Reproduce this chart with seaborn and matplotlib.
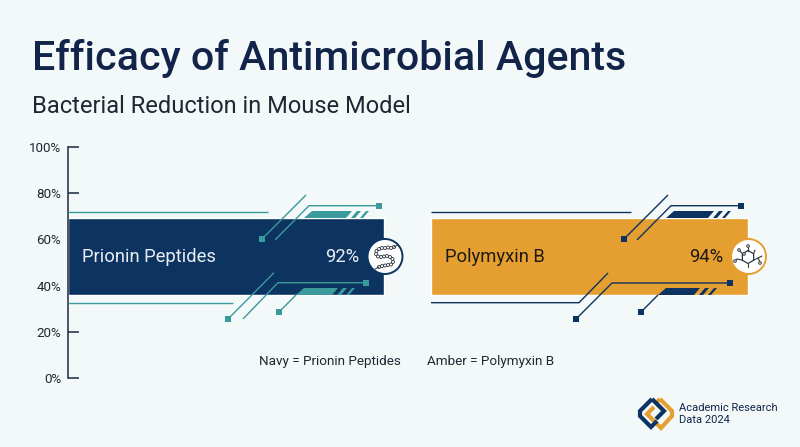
import numpy as np
import pandas as pd
import matplotlib
matplotlib.use("Agg")
import matplotlib.pyplot as plt
import seaborn as sns
from matplotlib.patches import Circle, Polygon, Rectangle

# values
agents = ["Prionin Peptides", "Polymyxin B"]
efficacy = [92, 94]
bar_low = [36, 36]
bar_high = [69.3, 69.3]
y_ticks = [0, 20, 40, 60, 80, 100]
y_labels = ["0%", "20%", "40%", "60%", "80%", "100%"]
legend_notes = ["Navy = Prionin Peptides", "Amber = Polymyxin B"]

BG = "#f3f9f9"
NAVY = "#0d3360"
AMBER = "#e59e30"
TEAL = "#3a9a9c"
INK = "#12244a"
DARK = "#1f2733"

sns.set_theme(style="white")
plt.rcParams["font.family"] = ["Roboto", "DejaVu Sans"]

fig = plt.figure(figsize=(8, 4.47), dpi=100, facecolor=BG)

# chart axes, y axis sits at x=68px, 100% at y=147px, 0% at y=378px
ax = fig.add_axes([68 / 800, (447 - 378) / 447, 732 / 800, 231 / 447])
ax.set_facecolor("none")

df = pd.DataFrame({"agent": agents, "low": bar_low, "high": bar_high})
df["span"] = df["high"] - df["low"]
sns.barplot(data=df, x="agent", y="span", hue="agent", palette=[NAVY, AMBER],
            bottom=df["low"].values, width=0.87, legend=False, ax=ax, saturation=1)

ax.set_xlim(-0.435, 1.579)
ax.set_ylim(0, 100)
ax.set_xlabel("")
ax.set_ylabel("")
ax.set_xticks([])
ax.set_yticks(y_ticks)
ax.set_yticklabels(y_labels, fontsize=9.6, color=DARK)
ax.tick_params(axis="y", direction="in", length=8, width=1.2, color="#2b3a4e",
               left=True, pad=5)
sns.despine(ax=ax, top=True, right=True, bottom=True)
ax.spines["left"].set_color("#2b3a4e")
ax.spines["left"].set_linewidth(1.2)
ax.spines["left"].set_zorder(1)

# overlay in image pixels for the decoration and free text
ov = fig.add_axes([0, 0, 1, 1])
ov.set_xlim(0, 800)
ov.set_ylim(447, 0)
ov.axis("off")
ov.patch.set_alpha(0)


def path(pts, color, lw=1.0):
    xs, ys = zip(*pts)
    ov.plot(xs, ys, color=color, lw=lw, solid_capstyle="butt", solid_joinstyle="miter")


def square(x, y, color, size=6):
    ov.add_patch(Rectangle((x - size / 2, y - size / 2), size, size, color=color, lw=0))


def band(x0, x1, y_flat, y_edge, color):
    # slanted strip plus two thin slashes, sitting on a bar edge
    ov.add_patch(Polygon([(x0, y_edge), (x0 + 8, y_flat), (x1 + 6, y_flat), (x1, y_edge)],
                         color=color, lw=0))
    for dx, w in ((5, 4), (14, 3)):
        a = x1 + dx
        ov.add_patch(Polygon([(a, y_edge), (a + 6, y_flat), (a + 6 + w, y_flat), (a + w, y_edge)],
                             color=color, lw=0))


def circuit(off, color):
    # upper group
    path([(262 + off, 239), (306 + off, 195)], color)
    square(262 + off, 239, color)
    path([(275 + off, 240), (309 + off, 205.7), (379 + off, 205.7)], color)
    square(379 + off, 205.7, color)
    band(304 + off, 346 + off, 211, 218, color)
    # lower group
    band(296 + off, 332 + off, 288, 295, color)
    path([(279 + off, 312), (296 + off, 295)], color)
    square(279 + off, 312, color)


# prionin decoration
circuit(0, TEAL)
path([(68, 211.7), (268, 211.7)], TEAL)
path([(68, 302.7), (233, 302.7)], TEAL)
path([(228, 319), (274, 272.7)], TEAL)
square(228, 319, TEAL)
path([(243, 319), (278, 282.7), (366, 282.7)], TEAL)
square(366, 282.7, TEAL)

# polymyxin decoration
circuit(362, NAVY)
path([(431, 211.7), (631, 211.7)], NAVY)
path([(431, 302.7), (579, 302.7), (608, 273)], NAVY)
path([(576, 319), (612, 283), (730, 283)], NAVY)
square(576, 319, NAVY)
square(730, 283, NAVY)

# badges
ov.add_patch(Circle((385, 256.5), 17.5, fc="white", ec=NAVY, lw=1.4, zorder=5))
ov.add_patch(Circle((748.5, 256.5), 17.5, fc="white", ec=AMBER, lw=1.4, zorder=5))

# peptide chain icon, beads along an S
beads = [(394, 247), (391, 248), (388, 247.5), (385, 248), (382, 248), (379, 249), (376.5, 251),
         (376, 254), (378, 256.5), (381, 257), (384, 256.5), (387, 256), (390, 257), (392.5, 259),
         (393, 262), (391, 264.5), (388, 265), (385, 265.5), (382, 266), (379, 267)]
for bx, by in beads:
    ov.add_patch(Circle((bx, by), 1.5, fc="white", ec="#2b3440", lw=0.6, zorder=6))
ov.plot([394, 398], [247, 245], color="#2b3440", lw=0.7, zorder=6)
ov.plot([379, 375], [267, 269], color="#2b3440", lw=0.7, zorder=6)

# molecule icon
hex_x = 748 + 6.5 * np.sin(np.arange(7) * np.pi / 3)
hex_y = 257 - 6.5 * np.cos(np.arange(7) * np.pi / 3)
ov.plot(hex_x, hex_y, color="#2b3440", lw=0.9, zorder=6)
arms = [[(748, 250.5), (748, 246)], [(742.4, 253.7), (739, 250)], [(742.4, 260.2), (737, 259), (735, 261)],
        [(753.6, 260.2), (758, 258), (760, 262)], [(758, 258), (762, 256)], [(753.6, 253.7), (755, 250)],
        [(748, 263.5), (748, 267)]]
for arm in arms:
    xs, ys = zip(*arm)
    ov.plot(xs, ys, color="#2b3440", lw=0.8, zorder=6)
for mx, my in [(748, 246), (739, 250), (735, 261), (760, 263), (744, 254)]:
    ov.add_patch(Circle((mx, my), 1.3, fc="white", ec="#2b3440", lw=0.7, zorder=6))

# titles
ov.text(32, 70.5, "Efficacy of Antimicrobial Agents", fontsize=29.6, fontweight="medium",
        color=INK, va="baseline", ha="left")
ov.text(32, 112.7, "Bacterial Reduction in Mouse Model", fontsize=17, color=DARK, va="baseline", ha="left")

# bar labels
ov.text(82, 257, agents[0], fontsize=13.2, color="#e8eef4", va="center", ha="left")
ov.text(359, 257, f"{efficacy[0]}%", fontsize=13.2, color="#e8eef4", va="center", ha="right")
ov.text(445, 257, agents[1], fontsize=13.2, color="#1d1a14", va="center", ha="left")
ov.text(723, 257, f"{efficacy[1]}%", fontsize=13.2, color="#1d1a14", va="center", ha="right")

# notes
ov.text(259, 361.5, legend_notes[0], fontsize=9.7, color=DARK, va="center", ha="left")
ov.text(427, 361.5, legend_notes[1], fontsize=9.7, color=DARK, va="center", ha="left")

# logo, two interlocked rings
logo_strokes = [
    ([(660, 399), (672, 411), (672, 416), (661, 428), (647, 414), (654, 407)], AMBER),
    ([(660, 399), (655, 404)], AMBER),
    ([(652, 399), (640, 411), (640, 416), (651, 427), (657, 421)], NAVY),
    ([(652, 399), (664, 411), (656, 419)], NAVY),
]
for pts, col in logo_strokes:
    xs, ys = zip(*pts)
    ov.plot(xs, ys, color=col, lw=3, solid_capstyle="butt", solid_joinstyle="miter")
ov.text(679, 408, "Academic Research", fontsize=8, color=INK, va="center", ha="left")
ov.text(679, 420, "Data 2024", fontsize=8, color=INK, va="center", ha="left")

fig.savefig("out.png", dpi=100, facecolor=BG)
